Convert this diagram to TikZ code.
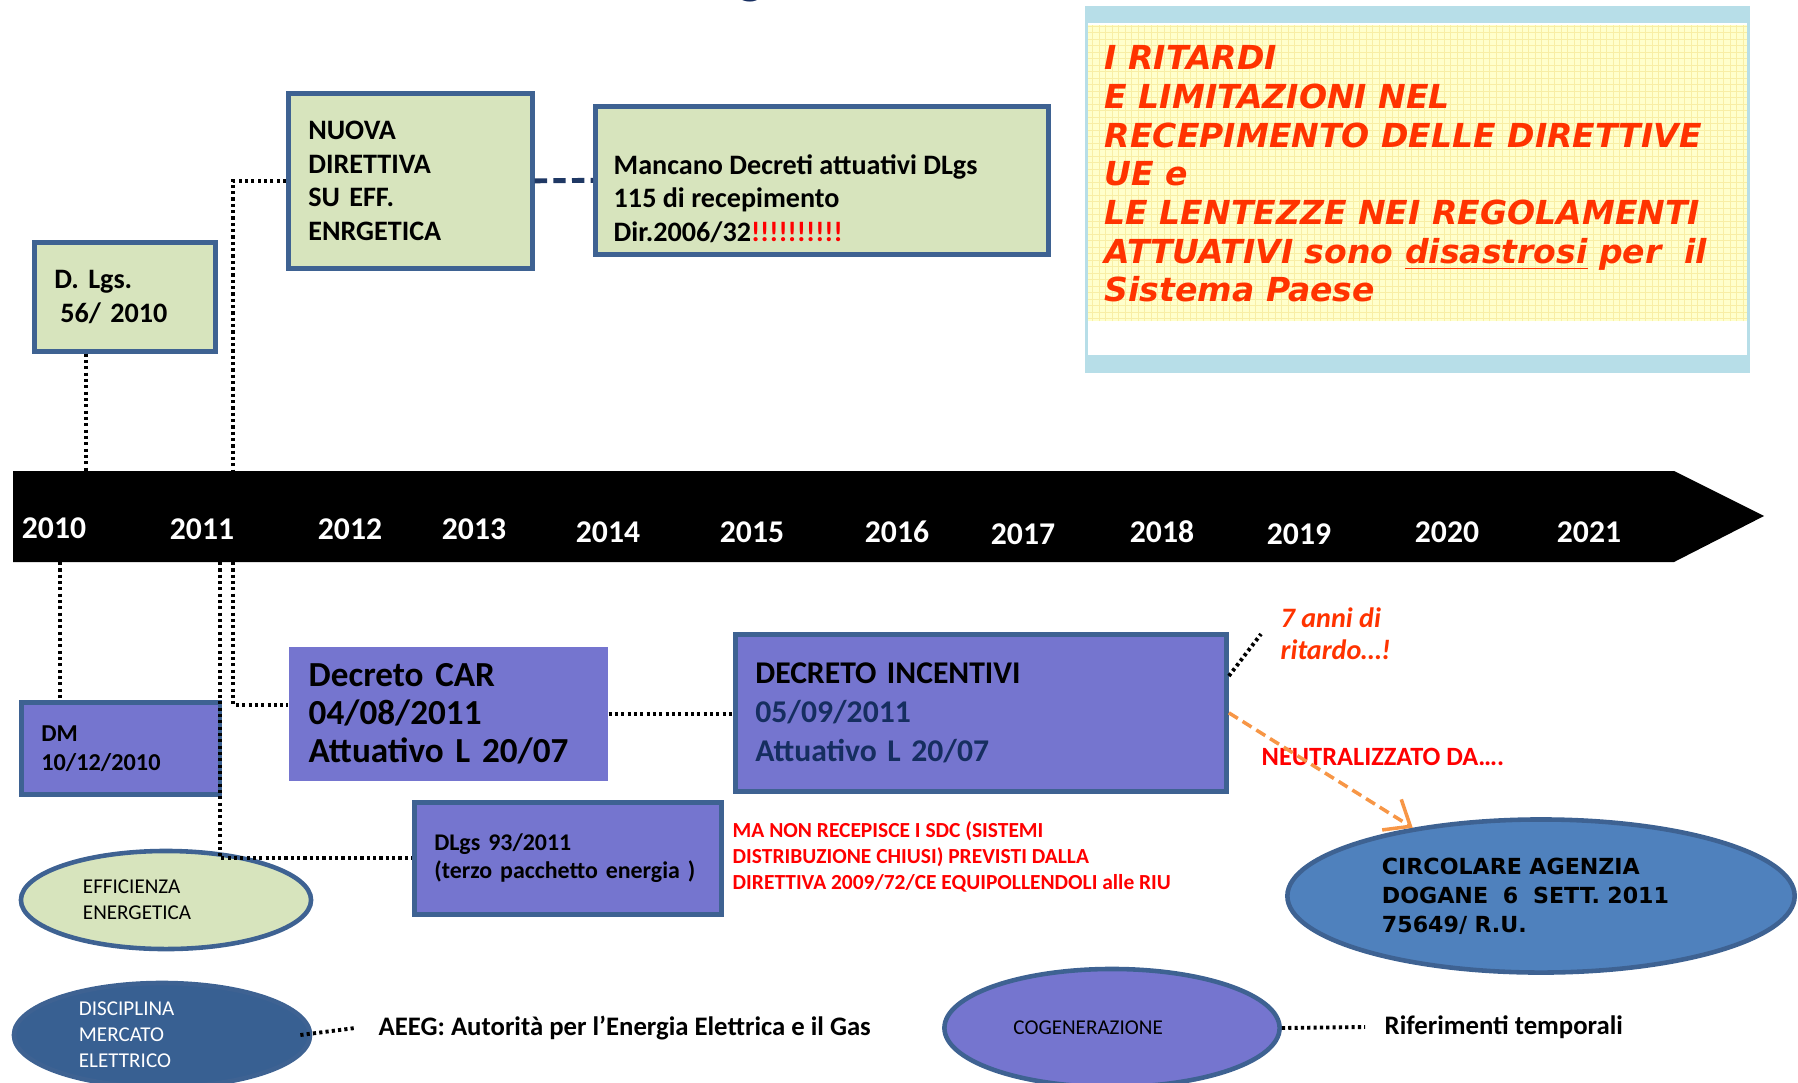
\documentclass[tikz,border=0pt]{standalone}
\usepackage{fontspec}
\setmainfont{Carlito}
\newfontfamily\verdana{DejaVu Sans}
\usepackage{tikz}
\usetikzlibrary{positioning}
\usetikzlibrary{arrows.meta}
\usetikzlibrary{shapes,calc}
\definecolor{boxgreen}{RGB}{215,228,189}
\definecolor{boxpurple}{RGB}{117,117,207}
\definecolor{boxline}{RGB}{62,98,146}
\definecolor{circblue}{RGB}{79,129,189}
\definecolor{discblue}{RGB}{56,96,146}
\definecolor{navytext}{RGB}{22,46,96}
\definecolor{bandblue}{RGB}{183,222,232}
\definecolor{paleyellow}{RGB}{255,255,204}
\definecolor{gridyellow}{RGB}{248,238,165}
\definecolor{redorange}{RGB}{255,51,0}
\definecolor{arroworange}{RGB}{247,150,70}
\definecolor{dashnavy}{RGB}{31,56,100}

\tikzset{
  greenbox/.style={rectangle, draw=boxline, line width=1.3pt, fill=boxgreen, anchor=north west,
                   align=left, inner xsep=0.2cm, inner ysep=0pt, font=\bfseries\fontsize{8}{9.5}\selectfont},
  purplebox/.style={rectangle, fill=boxpurple, anchor=north west, align=left, inner xsep=0.2cm, inner ysep=0pt},
  lined/.style={draw=boxline, line width=1.3pt},
  oval/.style={ellipse, draw=boxline, line width=1.3pt, align=left, inner sep=0pt},
  year/.style={text=white, font=\bfseries\fontsize{9}{11}\selectfont},
  legendtxt/.style={anchor=west, inner ysep=0pt, font=\bfseries\fontsize{7.6}{9}\selectfont},
  dotline/.style={draw=black, line width=1.1pt, dash pattern=on 0.9pt off 0.9pt},
  dashline/.style={draw=dashnavy, line width=1.4pt, dash pattern=on 3.5pt off 1.8pt},
  orangearrow/.style={draw=arroworange, line width=1pt, dash pattern=on 3pt off 1.6pt,
                      -{Straight Barb[length=2.2mm, width=3.6mm]}}
}

\begin{document}
\frenchspacing
\begin{tikzpicture}[x=0.01cm, y=-0.01cm]
\useasboundingbox (0,0) rectangle (1798,1082);

% title cut off at the top
\node[anchor=base, text=navytext, font=\bfseries\fontsize{16}{16}\selectfont] (title) at (751,-7) {g};

% timeline
\fill[black] (13,471) -- (1674,471) -- (1764,516) -- (1674,562) -- (13,562) -- cycle;
\foreach \yr/\xx/\yy in {2010/54/528, 2011/202/529, 2012/350/529, 2013/474/529, 2014/608/532, 2015/752/532,
                         2016/897/532, 2017/1023/534, 2018/1162/532, 2019/1299/534, 2020/1447/532, 2021/1589/532}
  \node[year] (y\yr) at (\xx,\yy) {\yr};
\coordinate (t10a) at (86,471);
\coordinate (t11a) at (233,471);
\coordinate (t10b) at (60,562);
\coordinate (t11b) at (233,562);
\coordinate (t11c) at (220,562);

% yellow note
\fill[bandblue] (1085,6) rectangle (1750,373);
\fill[white] (1088,23) rectangle (1747,355);
\fill[paleyellow] (1088,25) rectangle (1747,321);
\draw[gridyellow, line width=0.15pt, step=0.065cm] (1088,25) grid (1747,321);
\node[anchor=north west, align=left, inner sep=0pt, text=redorange,
      font=\verdana\bfseries\itshape\fontsize{9.4}{11}\selectfont] (ritardi) at (1104,45)
  {I RITARDI\\ E LIMITAZIONI NEL\\ RECEPIMENTO DELLE DIRETTIVE\\ UE e\\ LE LENTEZZE NEI REGOLAMENTI\\
   ATTUATIVI sono \underline{disastrosi} per\ \ il\\ Sistema Paese};

% boxes above the timeline
\node[greenbox, text width=1.41cm, minimum height=1.09cm] (dlgs) at (32,240) {D. Lgs.\\ \hspace{0.06cm}56/ 2010};
\node[greenbox, text width=2.04cm, minimum height=1.75cm] (nuova) at (286,91) {NUOVA\\ DIRETTIVA\\ SU EFF.\\ ENRGETICA};
\node[greenbox, minimum width=4.53cm, minimum height=1.48cm] (mancano) at (593,104) {};
\node[anchor=west, align=left, inner sep=0pt, font=\bfseries\fontsize{8}{9.5}\selectfont] (mancanoTxt)
  at ([xshift=0.2cm, yshift=-0.18cm]mancano.west)
  {Mancano Decreti attuativi DLgs\\ 115 di recepimento\\ Dir.2006/32\textcolor{red}{!!!!!!!!!!}};

% boxes below the timeline
\node[purplebox, lined, text width=1.585cm, minimum height=0.92cm, font=\bfseries\fontsize{6.9}{8.3}\selectfont] (dm)
  at (19,700) {DM\\ 10/12/2010};
\node[purplebox, text width=2.79cm, minimum height=1.34cm, font=\bfseries\fontsize{10}{10.8}\selectfont] (car)
  at (288,646) {Decreto CAR\\ 04/08/2011\\ Attuativo L 20/07};
\node[purplebox, lined, text width=4.51cm, minimum height=1.57cm, font=\bfseries\fontsize{9}{11}\selectfont] (incentivi)
  at (733,632) {DECRETO INCENTIVI\\ \textcolor{navytext}{05/09/2011}\\ \textcolor{navytext}{Attuativo L 20/07}};
\node[purplebox, lined, text width=2.67cm, minimum height=1.12cm, font=\bfseries\fontsize{6.8}{8}\selectfont] (dlgs93)
  at (412,800) {DLgs 93/2011\\ (terzo pacchetto energia )};
\node[anchor=west, align=left, inner sep=0pt, text=red, font=\bfseries\fontsize{6.1}{7.4}\selectfont] (sdc)
  at (732,857) {MA NON RECEPISCE I SDC (SISTEMI\\ DISTRIBUZIONE CHIUSI) PREVISTI DALLA\\ DIRETTIVA 2009/72/CE EQUIPOLLENDOLI alle RIU};
\node[anchor=west, align=left, inner xsep=0.19cm, inner ysep=0pt, text=redorange,
      font=\bfseries\itshape\fontsize{8}{9.1}\selectfont] (ritardo) at (1261,634) {7 anni di\\ ritardo…!};
\node[anchor=west, inner sep=0pt, text=red, font=\bfseries\fontsize{7.5}{9}\selectfont] (neutral)
  at (1261,757) {NEUTRALIZZATO DA….};
\node[oval, fill=circblue, minimum width=5.07cm, minimum height=1.53cm, text width=3.18cm,
      font=\verdana\bfseries\fontsize{6.3}{8.3}\selectfont] (circolare)
  at (1541,896) {CIRCOLARE AGENZIA\\ DOGANE\ \ 6\ \ SETT. 2011\\ 75649/ R.U.};

% legend
\node[oval, fill=boxgreen, minimum width=2.9cm, minimum height=0.98cm, text width=1.66cm,
      font=\fontsize{6}{7.4}\selectfont] (efficienza) at (166,900) {EFFICIENZA\\ ENERGETICA};
\node[oval, fill=discblue, text=white, minimum width=2.96cm, minimum height=1.04cm, text width=1.66cm,
      font=\fontsize{6}{7.4}\selectfont] (disciplina) at (162,1035) {DISCIPLINA\\ MERCATO\\ ELETTRICO};
\node[oval, fill=boxpurple, minimum width=3.35cm, minimum height=1.18cm, text width=1.97cm,
      font=\fontsize{6}{7.4}\selectfont] (cogen) at (1112,1028) {COGENERAZIONE};
\node[legendtxt, inner xsep=0.23cm] (aeeg) at (355,1028) {AEEG: Autorità per l’Energia Elettrica e il Gas};
\node[legendtxt, inner xsep=0.19cm] (riferimenti) at (1365,1027) {Riferimenti temporali};

% connectors
\draw[dotline] (t10a |- dlgs.south) -- (t10a);
\draw[dotline] (nuova.west) -| (t11a);
\draw[dashline] (nuova.east) -- (mancano.west);
\draw[dotline] (t10b) -- (t10b |- dm.north);
\draw[dotline] (t11b) |- ([yshift=0.09cm]car.west);
\draw[dotline] (t11c) |- (dlgs93.west);
\draw[dotline] (car.east) -- (car.east -| incentivi.west);
\draw[dotline] ([yshift=-0.44cm]incentivi.north east) -- (ritardo.west);
\draw[orangearrow] (incentivi.east) -- (circolare.152);
\draw[dotline] ([xshift=-0.12cm]disciplina.east) -- (aeeg.west);
\draw[dotline] (cogen.east) -- (riferimenti.west);
\end{tikzpicture}
\end{document}
